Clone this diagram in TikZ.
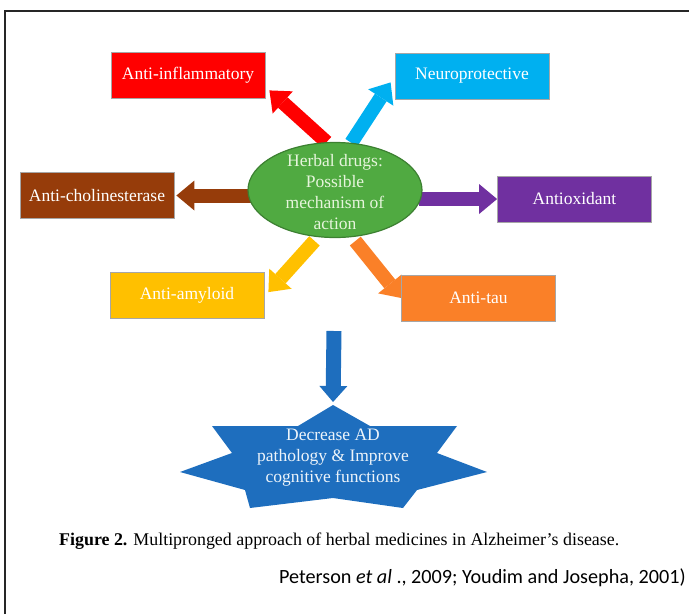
\documentclass[tikz,border=0pt]{standalone}
\usepackage{fontspec}
\setmainfont{Liberation Serif}
\newfontfamily\calibri{Carlito}
\usetikzlibrary{shapes.geometric,arrows.meta,calc,backgrounds}

\definecolor{inflamred}{RGB}{255,0,0}
\definecolor{neuroblue}{RGB}{0,176,240}
\definecolor{cholinbrown}{RGB}{150,60,10}
\definecolor{oxipurple}{RGB}{112,48,160}
\definecolor{amyloidgold}{RGB}{255,192,0}
\definecolor{tauorange}{RGB}{250,128,40}
\definecolor{herbalgreen}{RGB}{80,170,65}
\definecolor{starblue}{RGB}{30,110,190}
\definecolor{paletext}{RGB}{230,245,220}

\tikzset{
	mechbox/.style={draw=black!35, line width=0.8pt, fill=#1, text=white, minimum width=154pt, minimum height=46pt, inner sep=0pt, font=\fontsize{17.5}{21}\selectfont},
	blockarrow/.style={line width=14pt, draw=#1, -{Triangle[length=18pt,width=30pt,line width=0pt]}},
	herbalell/.style={ellipse, draw=herbalgreen!75!black, line width=1.2pt, fill=herbalgreen, minimum width=174pt, minimum height=95pt, inner sep=0pt},
	midtext/.style={align=center, inner sep=0pt, font=\fontsize{17.5}{21}\selectfont},
}

\begin{document}
\begin{tikzpicture}[x=1pt,y=-1pt]
	%\draw[help lines] (0,0) grid[step=50] (689,614);
	\useasboundingbox (0,0) rectangle (689,614);
	\draw[line width=2pt, black!85] (5,614) -- (5,11) -- (689,11);

	\node[herbalell] (herbal) at (335,190) {};
	\node[midtext, text=paletext] at (335,192) {Herbal drugs:\\Possible\\mechanism of\\action};

	\node[mechbox=inflamred] (inflam) at (188,75) {Anti-inflammatory};
	\node[mechbox=neuroblue] (neuro) at (472,76) {Neuroprotective};
	\node[mechbox=cholinbrown] (cholin) at (97,195.5) {Anti-cholinesterase};
	\node[mechbox=oxipurple] (antiox) at (574.5,199) {Antioxidant};
	\node[mechbox=amyloidgold] (amyloid) at (187,295.5) {Anti-amyloid};
	\node[mechbox=tauorange] (tau) at (478.5,298) {Anti-tau};

	% seven pointed star
	\fill[starblue] (333,405) -- (370,426) -- (457,426) -- (437,453) -- (487,472) -- (417,490) -- (403,508) -- (333,498)
		-- (250,508) -- (245,490) -- (180,472) -- (232,453) -- (212,426) -- (298,426) -- cycle;
	\coordinate (startop) at (333,405);
	\node[midtext, text=white!92!starblue] (outcome) at (333,458) {Decrease AD\\pathology \& Improve\\cognitive functions};
	\coordinate (downstart) at (334,331);

	\begin{scope}[on background layer]
		\draw[blockarrow=inflamred] (herbal.100) -- ($(inflam.south east)+(4,-8)$);
		\draw[blockarrow=neuroblue] (herbal.71) -- ($(neuro.south west)+(-4,-17)$);
		\draw[blockarrow=cholinbrown] ([xshift=4pt]herbal.west |- cholin.east) -- ([xshift=2pt]cholin.east);
		\draw[blockarrow=oxipurple] ([xshift=-4pt]herbal.east |- antiox.west) -- (antiox.west);
		\draw[blockarrow=amyloidgold, shorten <=5pt] (herbal.-110) -- ($(amyloid.north east)+(4,20)$);
		\draw[blockarrow=tauorange, shorten <=5pt] (herbal.-70) -- (tau.west);
	\end{scope}
	\draw[line width=15pt, starblue, -{Triangle[length=16pt,width=28pt,line width=0pt]}, shorten >=3pt] (downstart) -- (startop);

	\node[anchor=west, inner sep=0pt, font=\fontsize{17.9}{21}\selectfont] (caption) at (59,541) {\textbf{Figure 2.} Multipronged approach of herbal medicines in Alzheimer’s disease.};
	\node[anchor=east, inner sep=0pt, font=\calibri\fontsize{20.2}{24}\selectfont] (source) at (686,578) {Peterson \textit{et al} ., 2009; Youdim and Josepha, 2001)};
\end{tikzpicture}
\end{document}
